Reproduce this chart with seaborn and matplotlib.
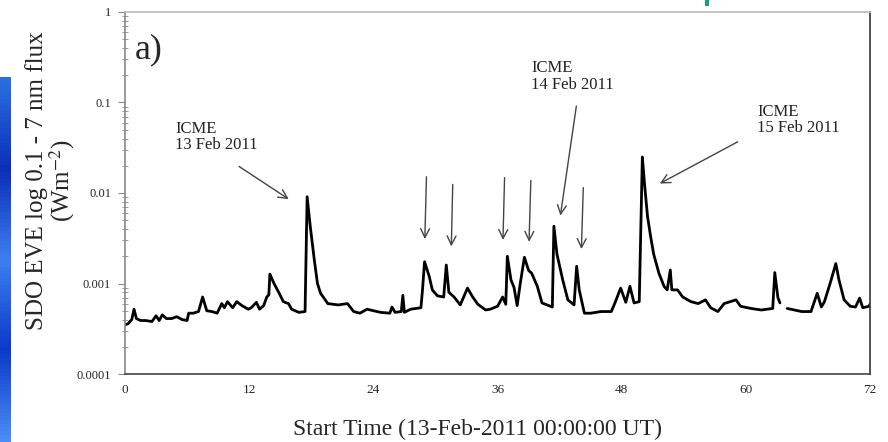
import numpy as np
import pandas as pd
import matplotlib
matplotlib.use("Agg")
import matplotlib.pyplot as plt
import seaborn as sns
from matplotlib.ticker import FixedLocator, FixedFormatter, LogLocator, NullFormatter

# ---- data (hours since 13-Feb-2011 00:00 UT, flux W m^-2) ----
seg1_hours = [0.0, 0.3, 0.65, 0.87, 1.1, 1.5, 2.0, 2.6, 3.0, 3.3, 3.6, 4.0, 4.5, 5.0, 5.5, 6.0,
              6.15, 6.6, 7.1, 7.5, 7.9, 8.4, 8.9, 9.35, 9.6, 9.9, 10.4, 10.8, 11.3, 11.9, 12.2,
              12.7, 13.0, 13.4, 13.7, 13.9, 14.0, 14.4, 14.9, 15.3, 15.8, 16.1, 16.8, 17.4, 17.6,
              17.9, 18.3, 18.6, 18.9, 19.6, 20.6, 21.5, 22.1, 22.7, 23.4, 23.7, 24.7, 25.6, 25.8,
              26.1, 26.7, 26.85, 27.0, 27.6, 28.6, 28.75, 28.95, 29.4, 29.7, 30.2, 30.8, 31.05,
              31.3, 31.8, 32.4, 33.1, 33.6, 34.1, 34.85, 35.3, 36.0, 36.5, 36.8, 36.95, 37.3,
              37.6, 37.9, 38.2, 38.6, 39.0, 39.3, 39.85, 40.3, 40.8, 41.3, 41.45, 41.75, 42.3,
              42.8, 43.4, 43.65, 43.9, 44.4, 45.0, 46.0, 47.0, 47.4, 47.9, 48.4, 48.8, 49.2,
              49.7, 50.0, 50.2, 50.5, 50.8, 51.1, 51.6, 52.1, 52.4, 52.7, 52.85, 53.4, 53.9,
              54.7, 55.4, 56.1, 56.6, 57.3, 57.9, 59.05, 59.5, 60.5, 61.5, 62.6, 62.8, 63.1, 63.3]
seg1_flux = [3.5e-4, 3.6e-4, 4.0e-4, 5.2e-4, 4.1e-4, 3.9e-4, 3.9e-4, 3.8e-4, 4.4e-4, 3.9e-4,
             4.5e-4, 4.1e-4, 4.1e-4, 4.3e-4, 4.0e-4, 3.9e-4, 4.7e-4, 4.7e-4, 4.9e-4, 7.1e-4,
             5.0e-4, 4.9e-4, 4.7e-4, 6.0e-4, 5.4e-4, 6.3e-4, 5.4e-4, 6.3e-4, 5.7e-4, 5.2e-4,
             5.4e-4, 6.2e-4, 5.2e-4, 5.7e-4, 7.1e-4, 7.5e-4, 1.27e-3, 1.0e-3, 7.8e-4, 6.3e-4,
             6.0e-4, 5.2e-4, 4.8e-4, 4.9e-4, 9.1e-3, 4.3e-3, 1.8e-3, 1.0e-3, 7.8e-4, 6.0e-4,
             5.8e-4, 6.0e-4, 4.9e-4, 4.7e-4, 5.2e-4, 5.1e-4, 4.8e-4, 4.7e-4, 5.5e-4, 4.8e-4,
             4.9e-4, 7.4e-4, 4.8e-4, 5.2e-4, 5.4e-4, 8.5e-4, 1.74e-3, 1.2e-3, 8.5e-4, 7.3e-4,
             7.1e-4, 1.6e-3, 8.0e-4, 7.1e-4, 5.8e-4, 8.9e-4, 7.1e-4, 5.9e-4, 5.1e-4, 5.2e-4,
             5.6e-4, 7.1e-4, 5.9e-4, 2.0e-3, 1.1e-3, 9.0e-4, 5.7e-4, 1.0e-3, 1.95e-3, 1.4e-3,
             1.3e-3, 9.3e-4, 6.1e-4, 5.8e-4, 5.5e-4, 4.3e-3, 2.1e-3, 1.1e-3, 6.6e-4, 5.8e-4,
             1.55e-3, 8.5e-4, 4.7e-4, 4.7e-4, 4.9e-4, 4.9e-4, 6.3e-4, 8.9e-4, 6.2e-4, 9.3e-4,
             6.1e-4, 6.3e-4, 2.5e-2, 1.3e-2, 5.5e-3, 3.3e-3, 2.1e-3, 1.3e-3, 9.3e-4, 8.5e-4,
             1.41e-3, 8.5e-4, 8.5e-4, 7.1e-4, 6.3e-4, 6.0e-4, 6.6e-4, 5.4e-4, 4.9e-4, 6.0e-4,
             6.6e-4, 5.6e-4, 5.3e-4, 5.1e-4, 5.3e-4, 1.32e-3, 7.0e-4, 6.1e-4]
seg2_hours = [64.0, 65.4, 66.3, 66.9, 67.3, 67.6, 68.2, 68.7, 69.0, 69.5, 70.1, 70.6, 71.0,
              71.3, 71.9, 72.0]
seg2_flux = [5.3e-4, 4.9e-4, 4.9e-4, 7.8e-4, 5.5e-4, 6.3e-4, 1.05e-3, 1.66e-3, 1.1e-3,
             6.6e-4, 5.6e-4, 5.5e-4, 6.9e-4, 5.4e-4, 5.6e-4, 5.9e-4]

x_ticks = [0, 12, 24, 36, 48, 60, 72]
y_ticks = [1e-4, 1e-3, 1e-2, 1e-1, 1]
y_tick_labels = ["0.0001", "0.001", "0.01", "0.1", "1"]

icme_labels = ["ICME\n13 Feb 2011", "ICME\n14 Feb 2011", "ICME\n15 Feb 2011"]
icme_text_xy = [(4.85, 10 ** -1.20), (39.25, 10 ** -0.535), (61.1, 10 ** -1.015)]
icme_arrow_from = [(10.8, 10 ** -1.69), (43.66, 10 ** -1.01), (59.45, 10 ** -1.42)]
icme_arrow_to = [(16.05, 10 ** -2.085), (42.04, 10 ** -2.28), (51.45, 10 ** -1.91)]

event_arrow_top = [(29.14, 10 ** -1.79), (31.68, 10 ** -1.875), (36.69, 10 ** -1.80),
                   (39.23, 10 ** -1.83), (44.3, 10 ** -1.91)]
event_arrow_tip = [(28.97, 10 ** -2.54), (31.53, 10 ** -2.62), (36.52, 10 ** -2.55),
                   (39.04, 10 ** -2.57), (44.1, 10 ** -2.65)]

# ---- figure ----
sns.set_theme(style="white")
plt.rcParams["font.family"] = ["Liberation Serif", "DejaVu Serif"]
plt.rcParams["mathtext.fontset"] = "stix"

fig = plt.figure(figsize=(8.88, 4.42), dpi=100)
fig.patch.set_facecolor("white")

# decorative blue strip at left edge (background artifact)
strip = fig.add_axes([0.0, 0.0, 0.012, 0.825])
grad = np.linspace(0, 1, 100).reshape(-1, 1)
strip.imshow(grad, aspect="auto", cmap=matplotlib.colors.LinearSegmentedColormap.from_list(
    "b", ["#2a6fe0", "#0a2fb8", "#3d7ff0", "#0b3ac8", "#4a8cf5"]))
strip.set_axis_off()
# small teal mark at top
mark = fig.add_axes([0.794, 0.986, 0.004, 0.014])
mark.set_facecolor("#1a9a8a")
mark.set_xticks([]); mark.set_yticks([])
for s in mark.spines.values():
    s.set_visible(False)

ax = fig.add_axes([0.1408, 0.1538, 0.8389, 0.8191])
df1 = pd.DataFrame({"hour": seg1_hours, "flux": seg1_flux})
df2 = pd.DataFrame({"hour": seg2_hours, "flux": seg2_flux})
sns.lineplot(data=df1, x="hour", y="flux", ax=ax, color="black", lw=2.0, estimator=None)
sns.lineplot(data=df2, x="hour", y="flux", ax=ax, color="black", lw=2.0, estimator=None)

ax.set_yscale("log")
ax.set_xlim(0, 72)
ax.set_ylim(1e-4, 1)
ax.xaxis.set_major_locator(FixedLocator(x_ticks))
ax.set_xticklabels([str(t) for t in x_ticks])
ax.yaxis.set_major_locator(FixedLocator(y_ticks))
ax.yaxis.set_major_formatter(FixedFormatter(y_tick_labels))
ax.yaxis.set_minor_locator(LogLocator(base=10, subs=np.arange(2, 10)))
ax.yaxis.set_minor_formatter(NullFormatter())
ax.tick_params(axis="y", which="major", direction="out", length=5, width=0.8,
               color="#888888", labelsize=9, pad=5, left=True)
ax.tick_params(axis="y", which="minor", direction="inout", length=4, width=0.6,
               color="#888888", left=True)
ax.tick_params(axis="x", which="major", length=0, labelsize=9.5, pad=7)

for side, col, w in [("left", "#888888", 1.2), ("bottom", "#444444", 1.2),
                     ("top", "#bbbbbb", 1.2), ("right", "#333333", 1.2)]:
    ax.spines[side].set_visible(True)
    ax.spines[side].set_color(col)
    ax.spines[side].set_linewidth(w)

ax.set_xlabel("Start Time (13-Feb-2011 00:00:00 UT)", fontsize=17)
ax.xaxis.set_label_coords(0.4725, -0.124)
ax.set_ylabel("SDO EVE log 0.1 - 7 nm flux\n(Wm$^{-2}$)", fontsize=18, linespacing=1.0)
ax.yaxis.set_label_coords(-0.064, 0.533)

ax.text(0.95, 10 ** -0.42, "a)", fontsize=26, ha="left", va="center")

arrow_style = dict(arrowstyle="->", color="#444444", lw=1.0, mutation_scale=16)
for lab, txy, a0, a1 in zip(icme_labels, icme_text_xy, icme_arrow_from, icme_arrow_to):
    ax.text(txy[0], txy[1], lab, fontsize=12, ha="left", va="top", linespacing=1.05,
            color="#222222")
    ax.annotate("", xy=a1, xytext=a0, arrowprops=arrow_style)

for a0, a1 in zip(event_arrow_top, event_arrow_tip):
    ax.annotate("", xy=a1, xytext=a0, arrowprops=arrow_style)

fig.savefig("out.png", dpi=100, facecolor="white")
